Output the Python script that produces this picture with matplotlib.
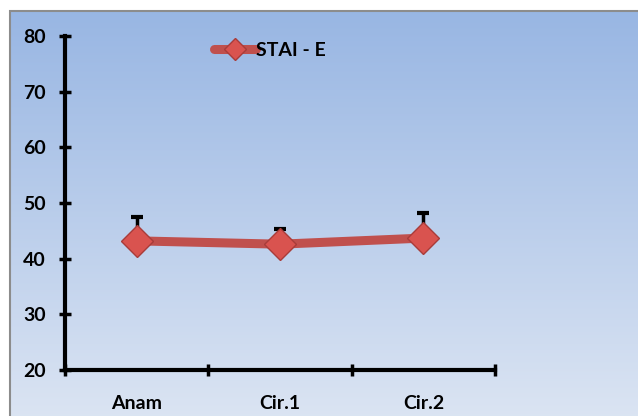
import numpy as np
import matplotlib.pyplot as plt
from matplotlib.patches import Rectangle

categorias = ["Anam", "Cir.1", "Cir.2"]
stai_e = [43.2, 42.6, 43.7]
error_sup = [4.3, 2.7, 4.5]
yticks = [20, 30, 40, 50, 60, 70, 80]

plt.rcParams['font.family'] = ['Lato', 'DejaVu Sans']
plt.rcParams['font.weight'] = 'bold'

W, H = 638, 416
fig = plt.figure(figsize=(W / 100, H / 100), dpi=100)
fig.patch.set_facecolor('white')

# fondo degradado con marco gris (se sale por abajo y a la derecha)
bg = fig.add_axes([10 / W, -0.02, 1.0, 1.02 - 11 / H], zorder=-10)
top = np.array([152, 182, 227]) / 255
bot = np.array([220, 229, 243]) / 255
t = np.linspace(0, 1, 256)[:, None]
grad = (top * (1 - t) + bot * t)[:, None, :]
bg.imshow(grad, aspect='auto', extent=[0, 1, 0, 1])
bg.set_xlim(0, 1)
bg.set_ylim(0, 1)
bg.axis('off')
bg.add_patch(Rectangle((0, 0), 1, 1, transform=bg.transAxes, fill=False,
                       edgecolor='#8c8c8c', linewidth=1.5, clip_on=False))

ax = fig.add_axes([65 / W, (H - 370) / H, (495 - 65) / W, (370 - 36) / H])
ax.patch.set_alpha(0)
x = np.arange(len(categorias))

ax.errorbar(x, stai_e, yerr=[np.zeros(3), error_sup], fmt='none', ecolor='black',
            elinewidth=2.5, capsize=4, capthick=3, zorder=2)
ax.plot(x, stai_e, color='#c0504d', linewidth=6.5, zorder=3, solid_capstyle='round',
        marker='D', markersize=16, markerfacecolor='#d9534f',
        markeredgecolor='#a83c3a', markeredgewidth=1, label='STAI - E')

ax.set_xlim(-0.5, 2.5)
ax.set_ylim(20, 80)
ax.set_yticks(yticks)
ax.set_xticks(x)
ax.set_xticklabels(categorias)
ax.set_xticks([-0.5, 0.5, 1.5, 2.5], minor=True)
ax.tick_params(axis='x', which='major', length=0, pad=18, labelsize=14)
ax.tick_params(axis='x', which='minor', length=8, width=2.5, direction='inout')
ax.tick_params(axis='y', length=8, width=2.5, direction='inout', labelsize=14, pad=10)
for lab in ax.get_xticklabels() + ax.get_yticklabels():
    lab.set_fontweight('bold')

for s in ['top', 'right']:
    ax.spines[s].set_visible(False)
for s in ['left', 'bottom']:
    ax.spines[s].set_linewidth(3)

leg = ax.legend(loc='upper left', bbox_to_anchor=(0.305, 1.035), frameon=False,
                fontsize=14, handlelength=2.2, handletextpad=0.0, markerscale=0.7)
for txt in leg.get_texts():
    txt.set_fontweight('bold')

fig.savefig('out.png', dpi=100)
